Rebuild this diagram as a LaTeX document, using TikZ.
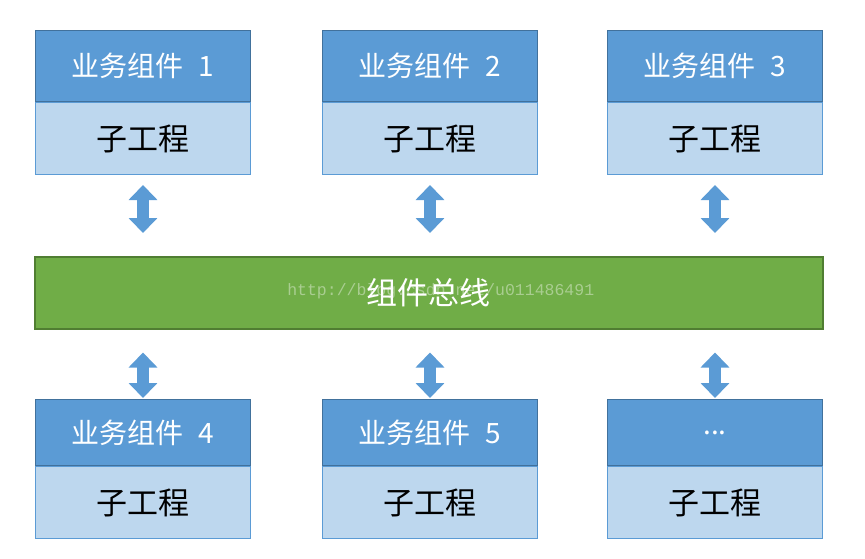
\documentclass[tikz,border=0pt]{standalone}
\usepackage{fontspec}
\setmainfont{Noto Sans CJK SC}
\setmonofont{Liberation Mono}
\usetikzlibrary{positioning,calc,arrows.meta}

\definecolor{hdrblue}{HTML}{5B9BD5}
\definecolor{hdrline}{HTML}{41719C}
\definecolor{subblue}{HTML}{BDD7EE}
\definecolor{busgreen}{HTML}{70AD47}
\definecolor{busline}{HTML}{507E32}

\newcommand{\hdrgap}{\hspace{0.3em}}

\tikzset{
  hdr/.style={draw=hdrline, fill=hdrblue, line width=1pt, text=white, inner sep=0pt,
    minimum width=215pt, anchor=north west, font=\fontsize{28}{28}\selectfont},
  sub/.style={draw=hdrblue, fill=subblue, line width=1pt, text=black, inner sep=0pt,
    minimum width=215pt, minimum height=72pt, font=\fontsize{31}{31}\selectfont},
  bus/.style={draw=busline, fill=busgreen, line width=1.5pt, inner sep=0pt,
    minimum width=788pt, minimum height=72pt, anchor=north west},
  buslabel/.style={text=white, font=\fontsize{31}{31}\selectfont},
  wmark/.style={text=white, opacity=0.4, font=\ttfamily\fontsize{16.5}{16.5}\selectfont},
  link/.style={draw=hdrblue, line width=12pt,
    arrows={Triangle[width=28pt,length=15pt]-Triangle[width=28pt,length=15pt]}}
}

\begin{document}
\begin{tikzpicture}[x=1pt,y=-1pt]
\useasboundingbox (0,0) rectangle (865,558);

\node[hdr, minimum height=71pt] (hdr1) at (35,30) {业务组件 \hdrgap1};
\node[sub, below=0pt of hdr1] (sub1) {子工程};
\node[hdr, minimum height=71pt] (hdr2) at (322,30) {业务组件 \hdrgap2};
\node[sub, below=0pt of hdr2] (sub2) {子工程};
\node[hdr, minimum height=71pt] (hdr3) at (607,30) {业务组件 \hdrgap3};
\node[sub, below=0pt of hdr3] (sub3) {子工程};

\node[bus] (bus) at (34,256) {};
\node[wmark] (wm) at ([xshift=12pt,yshift=2pt]bus.center) {http://blog.csdn.net/u011486491};
\node[buslabel] (buslbl) at (bus.center) {组件总线};

\node[hdr, minimum height=66pt] (hdr4) at (35,399) {业务组件 \hdrgap4};
\node[sub, below=0pt of hdr4] (sub4) {子工程};
\node[hdr, minimum height=66pt] (hdr5) at (322,399) {业务组件 \hdrgap5};
\node[sub, below=0pt of hdr5] (sub5) {子工程};
\node[hdr, minimum height=66pt] (hdr6) at (607,399) {...};
\node[sub, below=0pt of hdr6] (sub6) {子工程};

\draw[link] ([yshift=-10pt]sub1.south) -- ($(bus.north -| sub1.south)+(0,-23)$);
\draw[link] ([yshift=-10pt]sub2.south) -- ($(bus.north -| sub2.south)+(0,-23)$);
\draw[link] ([yshift=-10pt]sub3.south) -- ($(bus.north -| sub3.south)+(0,-23)$);
\draw[link] ($(bus.south -| hdr4.north)+(0,23)$) -- ([yshift=1pt]hdr4.north);
\draw[link] ($(bus.south -| hdr5.north)+(0,23)$) -- ([yshift=1pt]hdr5.north);
\draw[link] ($(bus.south -| hdr6.north)+(0,23)$) -- ([yshift=1pt]hdr6.north);
\end{tikzpicture}
\end{document}
